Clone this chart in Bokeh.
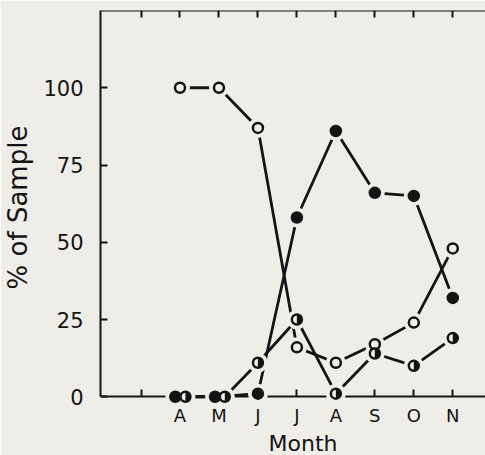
import math
from bokeh.plotting import figure
from bokeh.models import LinearAxis, FixedTicker, Range1d, Title
from bokeh.embed import file_html
from bokeh.resources import INLINE

# ---- data ----
months = ["A", "M", "J", "J", "A", "S", "O", "N"]
month_pos = [2, 3, 4, 5, 6, 7, 8, 9]          # Feb = 0, Mar = 1
open_pct = [100, 100, 87, 16, 11, 17, 24, 48]
filled_pct = [0, 0, 1, 58, 86, 66, 65, 32]
half_pct = [0, 0, 11, 25, 1, 14, 10, 19]
y_ticks = [0, 25, 50, 75, 100]
x_ticks = [1] + month_pos

# small dodge so coincident points stay visible (style only)
filled_dodge = [-0.12, -0.1, 0, 0, 0, 0, 0, 0]
half_dodge = [0.14, 0.15, 0, 0, 0, 0, 0, 0]

BG = "#efede8"
INK = "#141414"
FONT = "DejaVu Sans"

p = figure(width=485, height=455, output_backend="svg", toolbar_location=None,
           x_range=Range1d(-0.04, 9.84), y_range=Range1d(-2.5, 125),
           x_axis_location=None, y_axis_location=None,
           min_border_left=97, min_border_right=0, min_border_top=10,
           min_border_bottom=49,
           background_fill_color=BG, border_fill_color=BG,
           outline_line_color=None)
p.grid.visible = False


def style(ax):
    ax.axis_line_color = INK
    ax.axis_line_width = 2
    ax.major_tick_line_color = INK
    ax.major_tick_line_width = 2
    ax.minor_tick_line_color = None
    ax.major_tick_out = 0
    ax.major_tick_in = 7
    ax.major_label_text_color = INK
    ax.major_label_text_font = FONT
    ax.axis_label_text_color = INK
    ax.axis_label_text_font = FONT
    ax.axis_label_text_font_style = "normal"


# bottom axis line + ticks, fixed at 0
xb = LinearAxis(fixed_location=0, ticker=FixedTicker(ticks=x_ticks))
style(xb)
xb.major_label_text_font_size = "0px"
xb.major_label_text_color = None
p.add_layout(xb, "below")

# bottom tick labels
overrides = {1: ""}
for m, lab in zip(month_pos, months):
    overrides[m] = lab
xl = LinearAxis(ticker=FixedTicker(ticks=x_ticks))
style(xl)
xl.axis_line_color = None
xl.major_tick_line_color = None
xl.major_tick_in = 0
xl.major_label_overrides = overrides
xl.major_label_text_font_size = "18px"
xl.major_label_standoff = 0
p.add_layout(xl, "below")

# x title
p.add_layout(Title(text="Month", align="left", offset=168, standoff=0,
                   text_font=FONT, text_font_size="22px",
                   text_font_style="normal", text_color=INK), "below")

# top axis (ticks only)
xt = LinearAxis(fixed_location=125, ticker=FixedTicker(ticks=x_ticks))
style(xt)
xt.major_label_text_font_size = "0px"
xt.major_label_text_color = None
p.add_layout(xt, "above")

# left axis
yl = LinearAxis(ticker=FixedTicker(ticks=y_ticks), bounds=(0, 125),
                axis_label="% of Sample")
style(yl)
yl.major_label_text_font_size = "21px"
yl.major_label_standoff = 17
yl.axis_label_text_font_size = "26px"
yl.axis_label_standoff = 7
p.add_layout(yl, "left")

filled_x = [m + d for m, d in zip(month_pos, filled_dodge)]
half_x = [m + d for m, d in zip(month_pos, half_dodge)]

LW = 2.8
# lines
p.line(month_pos, open_pct, line_color=INK, line_width=LW)
p.line(filled_x, filled_pct, line_color=INK, line_width=LW)
p.line(half_x, half_pct, line_color=INK, line_width=LW)

# halos that open a gap in lines around each marker
for xs, ys in ((month_pos, open_pct), (filled_x, filled_pct), (half_x, half_pct)):
    r = p.scatter(xs, ys, size=20, fill_color=BG, line_color=None)
    r.level = "annotation"

MS = 10
r = p.scatter(month_pos, open_pct, size=MS, fill_color=BG, line_color=INK,
              line_width=2.5)
r.level = "annotation"
r = p.scatter(filled_x, filled_pct, size=MS, fill_color=INK, line_color=INK,
              line_width=2.5)
r.level = "annotation"
r = p.scatter(half_x, half_pct, size=MS, fill_color=BG, line_color=INK,
              line_width=2.5)
r.level = "annotation"
r = p.wedge(half_x, half_pct, radius=5, radius_units="screen",
            start_angle=-math.pi / 2, end_angle=math.pi / 2,
            fill_color=INK, line_color=None)
r.level = "annotation"

open("out.html", "w").write(file_html(p, INLINE))
